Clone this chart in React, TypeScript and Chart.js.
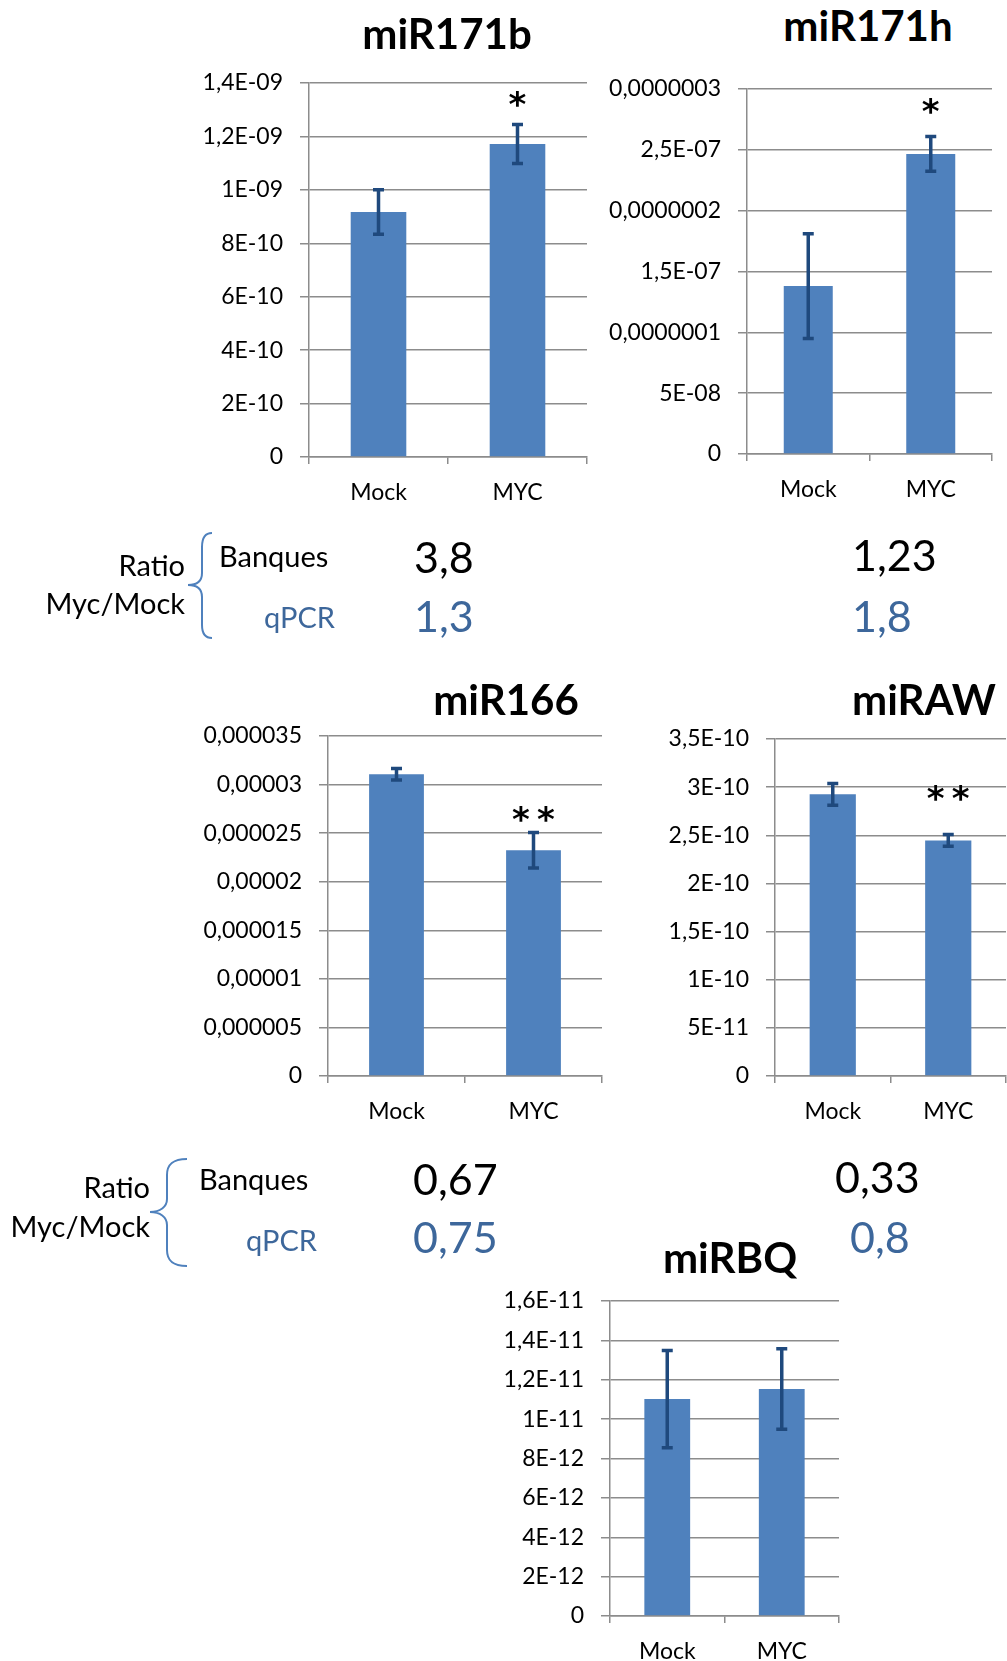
import React, { useEffect, useRef } from "react";
import { Chart, registerables } from "chart.js";

Chart.register(...registerables);

// ---------- DATA ----------
const categories = ["Mock", "MYC"];

const miR171bMean = [9.17e-10, 1.172e-9];
const miR171bErr = [0.083e-9, 0.073e-9];
const miR171bTicks = ["0", "2E-10", "4E-10", "6E-10", "8E-10", "1E-09", "1,2E-09", "1,4E-09"];
const miR171bStars = ["", "*"];
const miR171bStarLevel = [0, 1.336e-9];

const miR171hMean = [1.38e-7, 2.466e-7];
const miR171hErr = [0.43e-7, 0.143e-7];
const miR171hTicks = ["0", "5E-08", "0,0000001", "1,5E-07", "0,0000002", "2,5E-07", "0,0000003"];
const miR171hStars = ["", "*"];
const miR171hStarLevel = [0, 2.85e-7];

const miR166Mean = [3.106e-5, 2.323e-5];
const miR166Err = [0.06e-5, 0.183e-5];
const miR166Ticks = ["0", "0,000005", "0,00001", "0,000015", "0,00002", "0,000025", "0,00003", "0,000035"];
const miR166Stars = ["", "**"];
const miR166StarLevel = [0, 2.687e-5];

const miRAWMean = [2.925e-10, 2.447e-10];
const miRAWErr = [0.112e-10, 0.061e-10];
const miRAWTicks = ["0", "5E-11", "1E-10", "1,5E-10", "2E-10", "2,5E-10", "3E-10", "3,5E-10"];
const miRAWStars = ["", "**"];
const miRAWStarLevel = [0, 2.928e-10];

const miRBQMean = [1.102e-11, 1.153e-11];
const miRBQErr = [0.247e-11, 0.205e-11];
const miRBQTicks = ["0", "2E-12", "4E-12", "6E-12", "8E-12", "1E-11", "1,2E-11", "1,4E-11", "1,6E-11"];
const miRBQStars = ["", ""];
const miRBQStarLevel = [0, 0];

const ratioBanques1 = ["3,8", "1,23"];
const ratioQPCR1 = ["1,3", "1,8"];
const ratioBanques2 = ["0,67", "0,33"];
const ratioQPCR2 = ["0,75", "0,8"];

// ---------- STYLE ----------
const FONT = "Lato, 'Open Sans', sans-serif";
const BAR = "#4F81BD";
const ERR = "#1F497D";
const GRID = "#8c8c8c";
const BLUE_TXT = "#3D679B";
const Y_AXIS_W = 150;
const X_AXIS_H = 50;
const PAD_TOP = 32;
const TICK_SIZE = 23;

const errorBarPlugin = {
  id: "errorBars",
  afterDatasetsDraw(chart: any, _args: any, opts: any) {
    const { ctx } = chart;
    const meta = chart.getDatasetMeta(0);
    const ys = chart.scales.y;
    const means = chart.data.datasets[0].data as number[];
    const errs = opts.errors as number[];
    ctx.save();
    ctx.strokeStyle = ERR;
    ctx.lineWidth = 3.5;
    ctx.lineCap = "butt";
    meta.data.forEach((el: any, i: number) => {
      const x = el.x;
      const top = ys.getPixelForValue(means[i] + errs[i]);
      const bot = ys.getPixelForValue(means[i] - errs[i]);
      const cap = 5.5;
      ctx.beginPath();
      ctx.moveTo(x, top);
      ctx.lineTo(x, bot);
      ctx.moveTo(x - cap, top);
      ctx.lineTo(x + cap, top);
      ctx.moveTo(x - cap, bot);
      ctx.lineTo(x + cap, bot);
      ctx.stroke();
    });
    // significance stars
    ctx.fillStyle = "#000";
    ctx.font = "bold 34px 'DejaVu Sans'";
    ctx.textAlign = "center";
    ctx.textBaseline = "middle";
    const stars = opts.stars as string[];
    const levels = opts.levels as number[];
    meta.data.forEach((el: any, i: number) => {
      const s = stars[i];
      if (!s) return;
      const y = ys.getPixelForValue(levels[i]) + 7;
      const n = s.length;
      for (let k = 0; k < n; k++) {
        const dx = (k - (n - 1) / 2) * 25;
        ctx.fillText("*", el.x + dx, y);
      }
    });
    ctx.restore();
  },
};

type Spec = {
  mean: number[];
  err: number[];
  ticks: string[];
  step: number;
  stars: string[];
  levels: number[];
};

type Box = { L: number; R: number; T: number; B: number; padR: number };

function BarChart({ spec, box }: { spec: Spec; box: Box }) {
  const ref = useRef<HTMLCanvasElement | null>(null);
  const width = box.R - box.L + Y_AXIS_W + box.padR;
  const height = box.B - box.T + PAD_TOP + X_AXIS_H;
  useEffect(() => {
    if (!ref.current) return;
    const max = spec.step * (spec.ticks.length - 1);
    const chart = new Chart(ref.current, {
      type: "bar",
      data: {
        labels: categories,
        datasets: [
          {
            data: spec.mean,
            backgroundColor: BAR,
            borderWidth: 0,
            barPercentage: 0.4,
            categoryPercentage: 1.0,
          },
        ],
      },
      plugins: [errorBarPlugin],
      options: {
        responsive: false,
        maintainAspectRatio: false,
        animation: false,
        devicePixelRatio: 1,
        layout: { padding: { top: PAD_TOP, right: box.padR, bottom: 0, left: 0 } },
        plugins: {
          legend: { display: false },
          tooltip: { enabled: false },
          title: { display: false },
          errorBars: { errors: spec.err, stars: spec.stars, levels: spec.levels },
        } as any,
        scales: {
          x: {
            offset: true,
            grid: {
              display: true,
              drawOnChartArea: false,
              drawTicks: true,
              tickLength: 7,
              color: GRID,
              lineWidth: 1.5,
              offset: true,
            },
            border: { display: true, color: GRID, width: 1.5 },
            ticks: { color: "#000", font: { size: TICK_SIZE, family: FONT }, padding: 15, maxRotation: 0 },
            afterFit: (s: any) => {
              s.height = X_AXIS_H;
            },
          },
          y: {
            min: 0,
            max,
            grid: { color: GRID, lineWidth: 1.5, tickLength: 9, drawTicks: true },
            border: { display: true, color: GRID, width: 1.5 },
            ticks: {
              color: "#000",
              font: { size: TICK_SIZE, family: FONT },
              padding: 17,
              callback: (_v: any, i: number) => spec.ticks[i],
            },
            afterBuildTicks: (s: any) => {
              s.ticks = spec.ticks.map((_t, i) => ({ value: i * spec.step }));
            },
            afterFit: (s: any) => {
              s.width = Y_AXIS_W;
            },
          },
        },
      } as any,
    });
    return () => chart.destroy();
  }, []);
  return (
    <canvas
      ref={ref}
      width={width}
      height={height}
      style={{
        position: "absolute",
        left: box.L - Y_AXIS_W,
        top: box.T - PAD_TOP,
        width,
        height,
      }}
    />
  );
}

function Txt({
  x,
  y,
  children,
  size,
  color = "#000",
  bold = false,
  align = "left",
}: {
  x: number;
  y: number;
  children: React.ReactNode;
  size: number;
  color?: string;
  bold?: boolean;
  align?: "left" | "right" | "center";
}) {
  const tx = align === "left" ? "0" : align === "right" ? "-100%" : "-50%";
  return (
    <div
      style={{
        position: "absolute",
        left: x,
        top: y,
        transform: `translate(${tx}, -50%)`,
        fontFamily: FONT,
        fontSize: size,
        fontWeight: bold ? 700 : 400,
        color,
        lineHeight: 1,
        whiteSpace: "nowrap",
      }}
    >
      {children}
    </div>
  );
}

function Brace({ d }: { d: string }) {
  return <path d={d} fill="none" stroke={BAR} strokeWidth={2} />;
}

export default function App() {
  const charts: { spec: Spec; box: Box }[] = [
    {
      spec: { mean: miR171bMean, err: miR171bErr, ticks: miR171bTicks, step: 2e-10, stars: miR171bStars, levels: miR171bStarLevel },
      box: { L: 309, R: 587, T: 83, B: 457, padR: 2 },
    },
    {
      spec: { mean: miR171hMean, err: miR171hErr, ticks: miR171hTicks, step: 5e-8, stars: miR171hStars, levels: miR171hStarLevel },
      box: { L: 747, R: 992, T: 89, B: 454, padR: 2 },
    },
    {
      spec: { mean: miR166Mean, err: miR166Err, ticks: miR166Ticks, step: 5e-6, stars: miR166Stars, levels: miR166StarLevel },
      box: { L: 328, R: 602, T: 736, B: 1076, padR: 2 },
    },
    {
      spec: { mean: miRAWMean, err: miRAWErr, ticks: miRAWTicks, step: 5e-11, stars: miRAWStars, levels: miRAWStarLevel },
      box: { L: 775, R: 1006, T: 739, B: 1076, padR: 1 },
    },
    {
      spec: { mean: miRBQMean, err: miRBQErr, ticks: miRBQTicks, step: 2e-12, stars: miRBQStars, levels: miRBQStarLevel },
      box: { L: 610, R: 839, T: 1301, B: 1616, padR: 2 },
    },
  ];

  return (
    <div
      style={{
        position: "absolute",
        left: 0,
        top: 0,
        width: 1007,
        height: 1661,
        overflow: "hidden",
        background: "#fff",
      }}
    >
      {charts.map((c, i) => (
        <BarChart key={i} spec={c.spec} box={c.box} />
      ))}

      {/* chart titles */}
      <Txt x={447} y={33} size={42} bold align="center">miR171b</Txt>
      <Txt x={868} y={25} size={42} bold align="center">miR171h</Txt>
      <Txt x={506} y={699} size={42} bold align="center">miR166</Txt>
      <Txt x={924} y={699} size={42} bold align="center">miRAW</Txt>
      <Txt x={730} y={1257} size={42} bold align="center">miRBQ</Txt>

      {/* braces */}
      <svg style={{ position: "absolute", left: 0, top: 0 }} width={1007} height={1661}>
        <Brace d="M212,533 C205,533 202,538 202,547 L202,573 C202,581 197,585 188,585 C197,585 202,589 202,597 L202,625 C202,634 205,638 212,638" />
        <Brace d="M187,1159 C172,1159 167,1165 167,1175 L167,1199 C167,1207 160,1212 150,1212 C160,1212 167,1217 167,1225 L167,1250 C167,1260 172,1266 187,1266" />
      </svg>

      {/* ratio block 1 */}
      <Txt x={185} y={564} size={29} align="right">Ratio</Txt>
      <Txt x={185} y={602} size={29} align="right">Myc/Mock</Txt>
      <Txt x={219} y={555} size={29}>Banques</Txt>
      <Txt x={264} y={616} size={29} color={BLUE_TXT}>qPCR</Txt>
      <Txt x={414} y={556} size={43}>{ratioBanques1[0]}</Txt>
      <Txt x={414} y={615} size={43} color={BLUE_TXT}>{ratioQPCR1[0]}</Txt>
      <Txt x={852} y={554} size={43}>{ratioBanques1[1]}</Txt>
      <Txt x={852} y={615} size={43} color={BLUE_TXT}>{ratioQPCR1[1]}</Txt>

      {/* ratio block 2 */}
      <Txt x={150} y={1186} size={29} align="right">Ratio</Txt>
      <Txt x={150} y={1225} size={29} align="right">Myc/Mock</Txt>
      <Txt x={199} y={1178} size={29}>Banques</Txt>
      <Txt x={246} y={1239} size={29} color={BLUE_TXT}>qPCR</Txt>
      <Txt x={413} y={1178} size={43}>{ratioBanques2[0]}</Txt>
      <Txt x={413} y={1236} size={43} color={BLUE_TXT}>{ratioQPCR2[0]}</Txt>
      <Txt x={835} y={1176} size={43}>{ratioBanques2[1]}</Txt>
      <Txt x={850} y={1236} size={43} color={BLUE_TXT}>{ratioQPCR2[1]}</Txt>
    </div>
  );
}
